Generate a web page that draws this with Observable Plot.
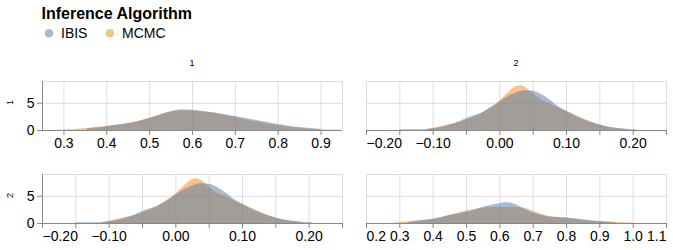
<!DOCTYPE html>
<html>
<head>
<meta charset="utf-8">
<script src="https://cdn.jsdelivr.net/npm/d3@7"></script>
<script src="https://cdn.jsdelivr.net/npm/@observablehq/plot@0.6"></script>
<style>
  body { margin: 0; background: #fff; font-family: "Liberation Sans", Arial, Helvetica, sans-serif; }
  #root { position: relative; width: 673px; height: 250px; overflow: hidden; }
  #root > svg { position: absolute; }
  #root svg.cellplot g[aria-label$="tick label"] text,
  #root svg.cellplot g[aria-label$="tick label"] { font-size: 14px; font-family: "Liberation Sans", Arial, Helvetica, sans-serif; }
</style>
</head>
<body>
<div id="root"></div>
<script>
// ---------- data ----------
const algorithms = ["IBIS", "MCMC"];
const algoColors = ["#4c78a8", "#f58518"];
const rowLabels = ["1", "2"];
const colLabels = ["1", "2"];

// cell (row 1, col 1)
const c11_ibis_x = [0.355,0.375,0.40,0.425,0.45,0.475,0.50,0.525,0.55,0.575,0.60,0.625,0.65,0.675,0.70,0.725,0.75,0.775,0.80,0.825,0.85,0.875,0.90];
const c11_ibis_y = [0.3,0.45,0.7,0.95,1.25,1.65,2.2,2.85,3.45,3.8,3.7,3.5,3.25,2.9,2.55,2.2,1.85,1.45,1.1,0.8,0.55,0.35,0.2];
const c11_mcmc_x = [0.275,0.30,0.325,0.35,0.375,0.40,0.425,0.45,0.475,0.50,0.525,0.55,0.575,0.60,0.625,0.65,0.675,0.70,0.725,0.75,0.775,0.80,0.825,0.85,0.875,0.90,0.925,0.945];
const c11_mcmc_y = [0.05,0.1,0.2,0.35,0.55,0.8,1.0,1.3,1.7,2.25,2.85,3.4,3.6,3.55,3.4,3.15,2.8,2.35,1.95,1.55,1.15,0.85,0.6,0.4,0.25,0.15,0.08,0.05];

// cells (row 1, col 2) and (row 2, col 1)
const c12_ibis_x = [-0.15,-0.125,-0.11,-0.10,-0.075,-0.06,-0.05,-0.04,-0.025,-0.0125,0.00,0.0125,0.025,0.0375,0.05,0.0625,0.075,0.0875,0.10,0.1125,0.125,0.1375,0.15,0.1625,0.175,0.19,0.205];
const c12_ibis_y = [0.12,0.12,0.15,0.3,0.95,1.6,2.2,2.6,3.3,4.2,5.2,6.2,6.9,7.3,7.2,6.6,5.6,4.4,3.5,2.7,2.0,1.45,1.0,0.65,0.4,0.25,0.15];
const c12_mcmc_x = [-0.11,-0.10,-0.075,-0.05,-0.025,-0.0125,0.00,0.0125,0.025,0.03,0.0375,0.05,0.0625,0.075,0.0875,0.10,0.1125,0.125,0.1375,0.15,0.1625,0.175,0.19];
const c12_mcmc_y = [0.2,0.4,1.15,1.9,3.3,4.3,5.4,6.9,8.1,8.2,8.0,6.7,5.6,4.9,4.2,3.6,2.9,2.2,1.5,1.0,0.6,0.35,0.15];

// cell (row 2, col 2)
const c22_ibis_x = [0.325,0.35,0.375,0.40,0.425,0.45,0.475,0.50,0.525,0.55,0.575,0.60,0.615,0.625,0.65,0.675,0.70,0.725,0.75,0.775,0.80,0.825,0.85,0.875,0.90,0.925,0.95];
const c22_ibis_y = [0.15,0.4,0.6,0.8,1.1,1.45,1.75,2.05,2.5,3.0,3.35,3.65,3.8,3.8,3.4,2.6,1.95,1.5,1.2,1.1,1.0,0.85,0.7,0.5,0.35,0.25,0.15];
const c22_mcmc_x = [0.285,0.30,0.325,0.35,0.375,0.40,0.425,0.45,0.475,0.50,0.525,0.55,0.575,0.60,0.625,0.65,0.675,0.70,0.725,0.75,0.775,0.80,0.825,0.85,0.875,0.90,0.925,0.95,0.975,1.005];
const c22_mcmc_y = [0.08,0.2,0.3,0.45,0.6,0.7,1.05,1.5,1.9,2.3,2.55,2.8,2.95,3.0,2.95,2.95,2.8,2.25,1.7,1.3,1.1,1.0,0.75,0.55,0.45,0.35,0.3,0.2,0.12,0.05];

// axes
const yDomain = [0, 9];
const yTicks = [0, 5];
const xDomainA = [0.25, 0.95];
const xTicksA = [0.3,0.4,0.5,0.6,0.7,0.8,0.9];
const xLabelsA = [0.3,0.4,0.5,0.6,0.7,0.8,0.9];
const xDomainB = [-0.2, 0.25];
const xTicksB = [-0.2,-0.15,-0.1,-0.05,0,0.05,0.1,0.15,0.2,0.25];
const xLabelsB = [-0.1,0,0.1,0.2];
const xFlushStartB = [-0.2];
const xDomainC = [0.2, 1.1];
const xTicksC = [0.2,0.3,0.4,0.5,0.6,0.7,0.8,0.9,1.0,1.1];
const xLabelsC = [0.3,0.4,0.5,0.6,0.7,0.8,0.9,1.0];
const xFlushStartC = [0.2];
const xFlushEndC = [1.1];

// ---------- layout ----------
const FONT = '"Liberation Sans", Arial, Helvetica, sans-serif';
const cellW = 300, cellH = 49;
const colX = [42, 366];
const rowY = [81, 174];

const zip = (xs, ys) => xs.map((x, i) => ({x, y: ys[i]}));

function cell(opts) {
  const {row, col, xDomain, ticks, labels, flushStart = [], flushEnd = [], fmt, ibis, mcmc} = opts;
  const showY = col === 0;
  const mL = showY ? 42 : 10, mR = 7, mT = 4, mB = 24;
  const f = d3.format(fmt);
  const lab = {label: null, fontSize: 14, fill: "#000"};
  const marks = [
    Plot.gridX(ticks, {stroke: "#ddd", strokeOpacity: 1}),
    Plot.gridY([5], {stroke: "#ddd", strokeOpacity: 1}),
    Plot.frame({stroke: "#ddd"}),
    Plot.areaY(mcmc, {x: "x", y: "y", fill: algoColors[1], fillOpacity: 0.5, curve: "monotone-x"}),
    Plot.areaY(ibis, {x: "x", y: "y", fill: algoColors[0], fillOpacity: 0.5, curve: "monotone-x"}),
    Plot.ruleY([0], {stroke: "#888"}),
    Plot.axisX(ticks, {label: null, tickSize: 5, stroke: "#888", tickFormat: () => ""}),
    Plot.axisX(labels, {...lab, tickSize: 0, tickPadding: 8, tickFormat: f})
  ];
  if (flushStart.length) marks.push(Plot.axisX(flushStart, {...lab, tickSize: 0, tickPadding: 8, tickFormat: f, textAnchor: "start"}));
  if (flushEnd.length) marks.push(Plot.axisX(flushEnd, {...lab, tickSize: 0, tickPadding: 8, tickFormat: f, textAnchor: "end"}));
  if (showY) {
    marks.push(Plot.ruleX([xDomain[0]], {stroke: "#888"}));
    marks.push(Plot.axisY(yTicks, {...lab, tickSize: 5, tickPadding: 3, stroke: "#888"}));
  }
  const p = Plot.plot({
    className: "cellplot",
    width: mL + cellW + mR,
    height: mT + cellH + mB,
    marginLeft: mL, marginRight: mR, marginTop: mT, marginBottom: mB,
    x: {domain: xDomain, label: null},
    y: {domain: yDomain, label: null, axis: showY ? undefined : null},
    style: {fontFamily: FONT, fontSize: "14px", background: "transparent", overflow: "visible", color: "#000"},
    marks
  });
  p.style.left = (colX[col] - mL) + "px";
  p.style.top = (rowY[row] - mT) + "px";
  return p;
}

const root = document.getElementById("root");

root.appendChild(cell({row: 0, col: 0, xDomain: xDomainA, ticks: xTicksA, labels: xLabelsA, fmt: ".1f",
  ibis: zip(c11_ibis_x, c11_ibis_y), mcmc: zip(c11_mcmc_x, c11_mcmc_y)}));
root.appendChild(cell({row: 0, col: 1, xDomain: xDomainB, ticks: xTicksB, labels: xLabelsB, flushStart: xFlushStartB, fmt: ".2f",
  ibis: zip(c12_ibis_x, c12_ibis_y), mcmc: zip(c12_mcmc_x, c12_mcmc_y)}));
root.appendChild(cell({row: 1, col: 0, xDomain: xDomainB, ticks: xTicksB, labels: xLabelsB, flushStart: xFlushStartB, fmt: ".2f",
  ibis: zip(c12_ibis_x, c12_ibis_y), mcmc: zip(c12_mcmc_x, c12_mcmc_y)}));
root.appendChild(cell({row: 1, col: 1, xDomain: xDomainC, ticks: xTicksC, labels: xLabelsC, flushStart: xFlushStartC, flushEnd: xFlushEndC, fmt: ".1f",
  ibis: zip(c22_ibis_x, c22_ibis_y), mcmc: zip(c22_mcmc_x, c22_mcmc_y)}));

// ---------- legend and headers ----------
const svg = d3.select(root).append("svg")
  .attr("width", 673).attr("height", 250)
  .style("left", "0px").style("top", "0px")
  .style("pointer-events", "none")
  .attr("font-family", FONT);

svg.append("text").attr("x", 41.5).attr("y", 18.5)
  .attr("font-size", 16).attr("font-weight", "bold").attr("fill", "#000")
  .text("Inference Algorithm");

const legendX = [49, 110];
algorithms.forEach((a, i) => {
  svg.append("circle").attr("cx", legendX[i]).attr("cy", 33.3).attr("r", 4.3)
    .attr("fill", algoColors[i]).attr("fill-opacity", 0.5);
  svg.append("text").attr("x", legendX[i] + 12).attr("y", 38)
    .attr("font-size", 14).attr("fill", "#000").text(a);
});

colLabels.forEach((c, i) => {
  svg.append("text").attr("x", colX[i] + cellW / 2).attr("y", 65.5)
    .attr("font-size", 9).attr("text-anchor", "middle").attr("fill", "#000").text(c);
});
const rowLabelY = [102.5, 195.5];
rowLabels.forEach((r, i) => {
  svg.append("text").attr("transform", `translate(13,${rowLabelY[i]}) rotate(-90)`)
    .attr("font-size", 9).attr("text-anchor", "middle").attr("fill", "#000").text(r);
});
</script>
</body>
</html>
